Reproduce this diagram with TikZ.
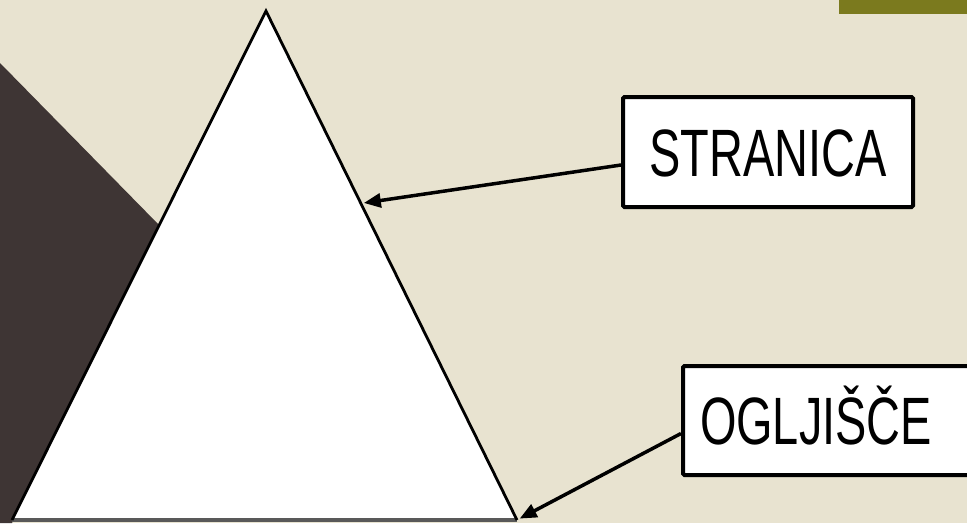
\documentclass[tikz,border=0pt]{standalone}
\usepackage{fontspec}
\setmainfont{Liberation Sans}
\usetikzlibrary{arrows.meta, calc, positioning}
\definecolor{paper}{RGB}{232,227,208}
\definecolor{slate}{RGB}{62,53,52}
\definecolor{barolive}{RGB}{123,122,30}
\begin{document}
\begin{tikzpicture}[x=1pt, y=-1pt,
    labelbox/.style={draw=black, fill=white, line width=4pt, rounded corners=1.5pt, inner sep=0pt,
      text height=48pt, text depth=0pt, font=\fontsize{67}{70}\selectfont},
    pointer/.style={line width=3.5pt, -{Triangle[length=17pt, width=14pt]}}]
  \clip (0,0) rectangle (967,523);
  \fill[paper] (0,0) rectangle (967,523);
  \fill[barolive] (839,0) rectangle (967,14);

  \coordinate (apex) at (266,11);
  \coordinate (left) at (12,520);
  \coordinate (right) at (517,520);

  \fill[slate] (0,63) -- (159,225) -- (12,523) -- (0,523) -- cycle;
  \fill[white] (apex) -- (right) -- (left) -- cycle;
  \draw[gray!70!black, line width=3.5pt] (left) -- (right);
  \draw[line width=2.8pt] (left) -- (apex) -- (right);

  \node[labelbox, minimum width=290pt, minimum height=110pt] (stranica) at (768,152) {\scalebox{0.7}[1]{STRANICA}};
  \node[labelbox, anchor=west, minimum height=109pt, inner xsep=17pt, text width=270pt, align=left] (ogljisce) at (681,420.5) {\scalebox{0.7}[1]{OGLJIŠČE}};

  \coordinate (sidept) at ($(apex)!0.378!(right)$);
  \draw[pointer, shorten >=3pt] ([yshift=-13pt]stranica.west) -- (sidept);
  \draw[pointer, shorten >=3pt] ([yshift=-13pt]ogljisce.west) -- (right);
\end{tikzpicture}
\end{document}
